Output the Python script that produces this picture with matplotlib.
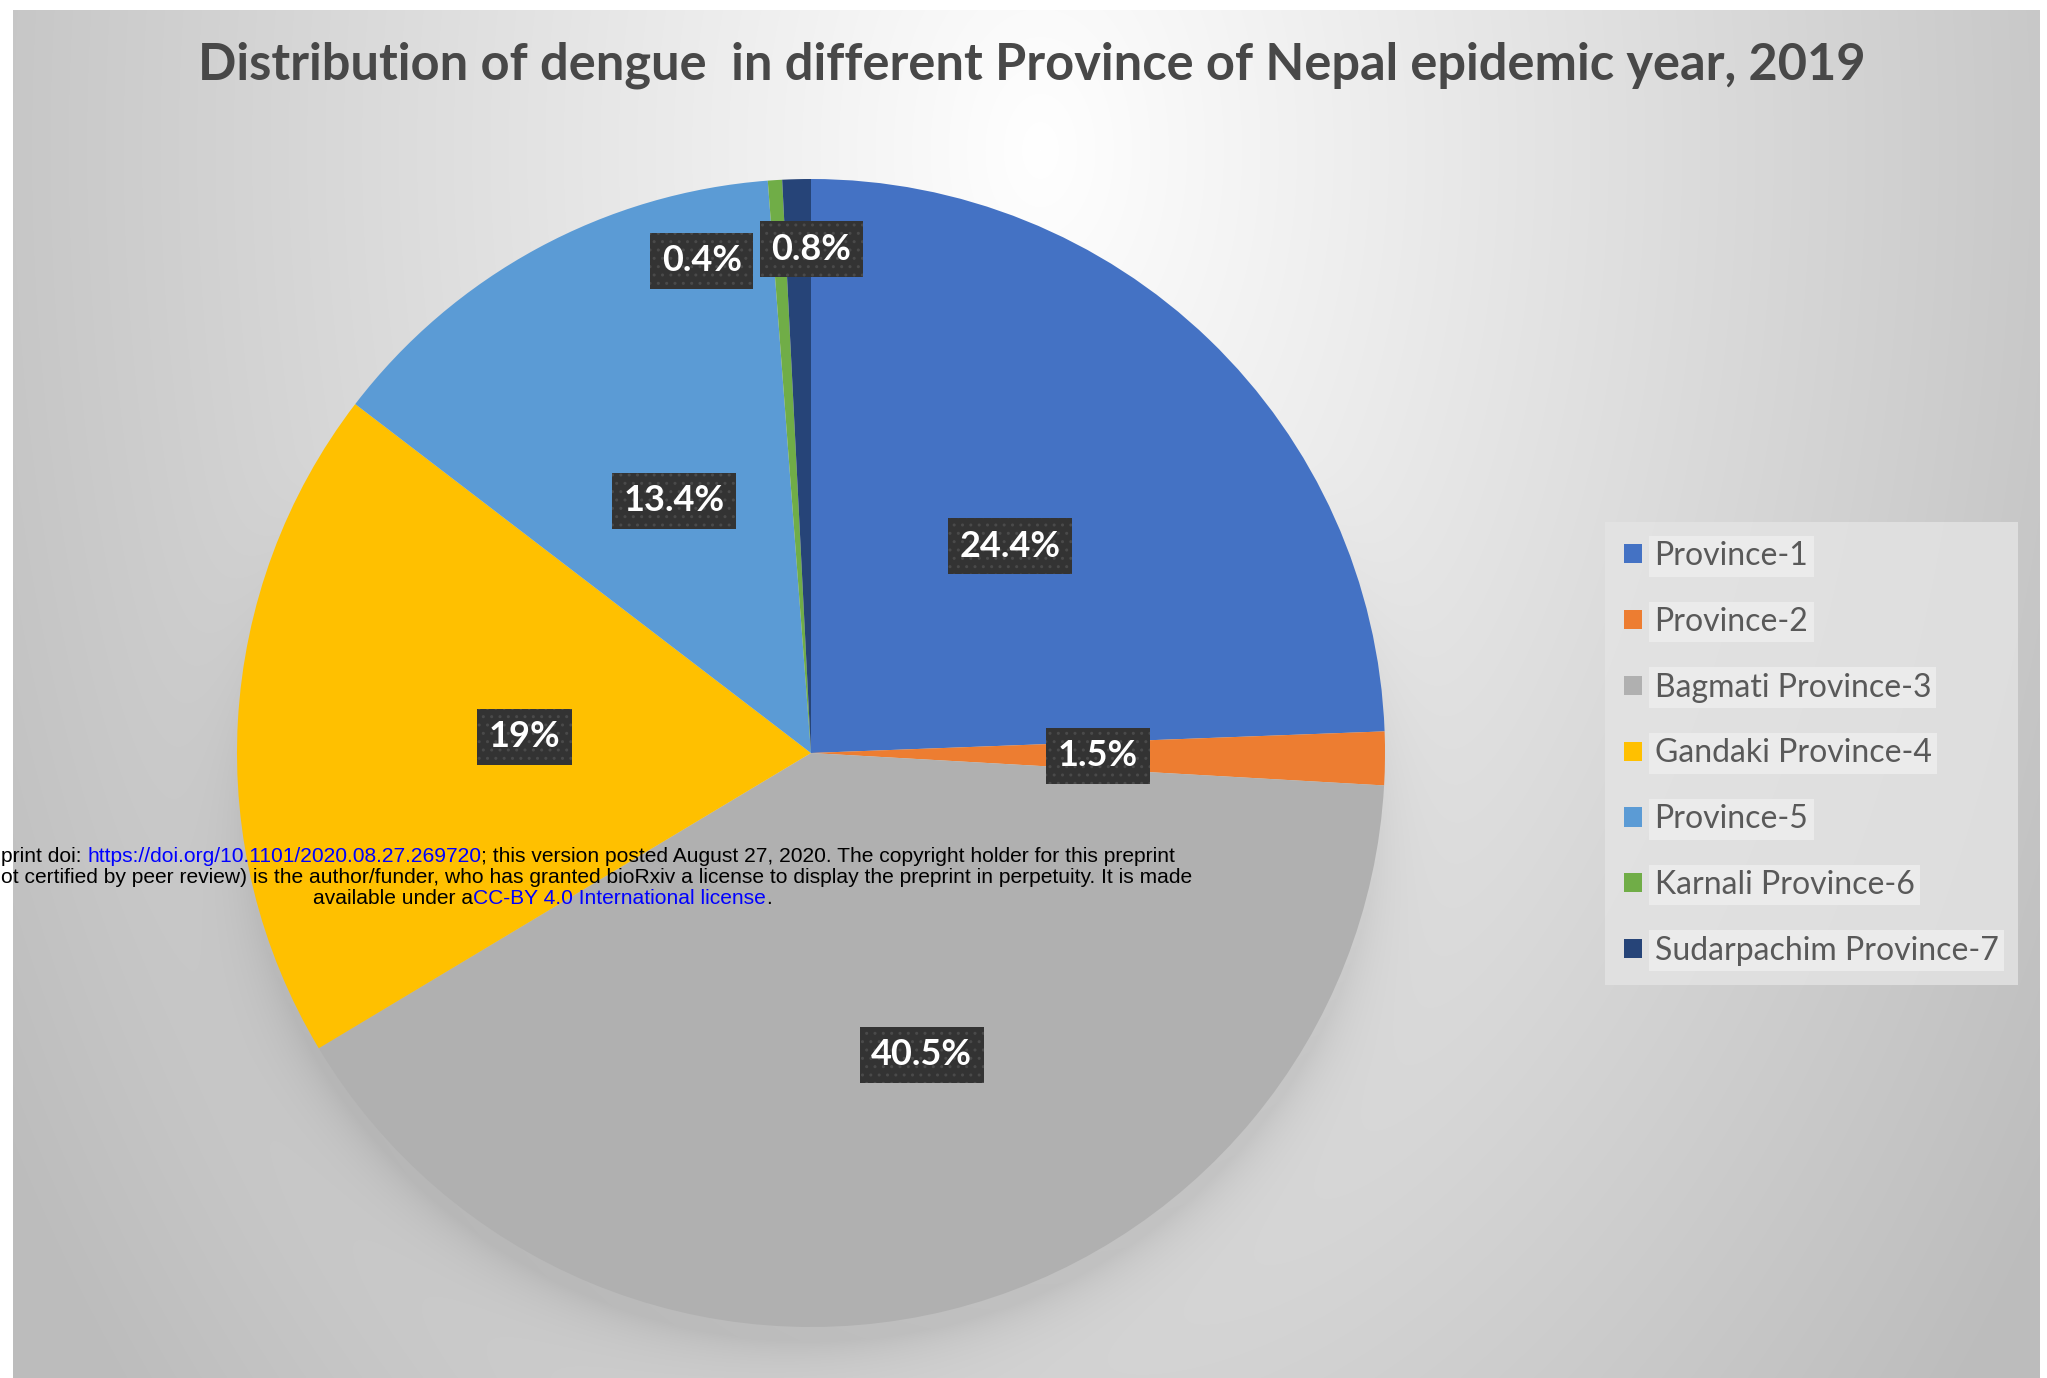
import numpy as np
import matplotlib
matplotlib.use("Agg")
import matplotlib.pyplot as plt

# data
provinces = ["Province-1", "Province-2", "Bagmati Province-3", "Gandaki Province-4",
             "Province-5", "Karnali Province-6", "Sudarpachim Province-7"]
shares = [24.4, 1.5, 40.5, 19, 13.4, 0.4, 0.8]
colors = ["#4472C4", "#ED7D31", "#B0B0B0", "#FFC000", "#5B9BD5", "#70AD47", "#264478"]
title = "Distribution of dengue  in different Province of Nepal epidemic year, 2019"

# where Excel put each data label: fraction of radius, angle nudge (deg)
lab_dist = [0.5, 0.5, 0.56, 0.5, 0.5, 0.878, 0.878]
lab_shift = [0, 0, 6.3, 0, 0, 8.9, -1.5]

W, H = 2047, 1378
fig = plt.figure(figsize=(W / 100, H / 100), dpi=100)
fig.patch.set_facecolor("white")

# background panel with radial gradient + soft pie shadow
px0, py0 = 13, 10
pw, ph = W - 7 - px0, H - py0
yy, xx = np.mgrid[py0:H, px0:px0 + pw].astype(float)
d = np.sqrt(((xx - 1040) / 1100) ** 2 + ((yy - 150) / 1700) ** 2)
bg = 255 - 60 * np.clip(d, 0, 1.1)
cx, cy, r = 811, 753, 574
ds = np.sqrt((xx - cx) ** 2 + (yy - (cy + 14)) ** 2) - r
below = np.clip((yy - cy + 300) / 600, 0, 1)
bg -= 22 * np.exp(-np.clip(ds, 0, None) / 30.0) * below
bg = np.clip(bg, 0, 255) / 255
bgax = fig.add_axes([px0 / W, 0, pw / W, ph / H])
bgax.imshow(np.dstack([bg, bg, bg]), aspect="auto", interpolation="bilinear")
bgax.axis("off")

ax = fig.add_axes([(cx - r) / W, (H - cy - r) / H, 2 * r / W, 2 * r / H])
wedges, _ = ax.pie(shares, colors=colors, startangle=90, counterclock=False,
                   wedgeprops=dict(linewidth=0))
ax.set_xlim(-1, 1)
ax.set_ylim(-1, 1)
ax.axis("off")

for w, v, dist, sh in zip(wedges, shares, lab_dist, lab_shift):
    mid = np.deg2rad((w.theta1 + w.theta2) / 2 + sh)
    ax.text(dist * np.cos(mid), dist * np.sin(mid), f"{v:g}%", ha="center", va="center",
            color="white", fontsize=26, fontweight="bold", family="Lato",
            bbox=dict(boxstyle="square,pad=0.32", facecolor="#333333",
                      edgecolor="#4a4a4a", linewidth=0, hatch=".."))

fig.text(1032 / W, 1 - 65 / H, title, ha="center", va="center", fontsize=36.4,
         fontweight="bold", family="Lato", color="#484848")

leg = fig.legend(wedges, provinces, loc="upper left",
                 bbox_to_anchor=(1605 / W, 1 - 522 / H), borderaxespad=0, frameon=True,
                 prop=dict(family="Lato", size=23), labelcolor="#595959",
                 handlelength=0.55, handleheight=0.55, handletextpad=0.4,
                 labelspacing=1.12, borderpad=0.6, fancybox=False)
leg.get_frame().set_facecolor("#e4e4e4")
leg.get_frame().set_edgecolor("none")
for t in leg.get_texts():
    t.set_bbox(dict(facecolor="#ebebeb", edgecolor="none", pad=4))

# bioRxiv watermark pasted over the figure
renderer = fig.canvas.get_renderer()
wm = dict(fontsize=15.1, family="Liberation Sans", va="baseline")
sp = fig.text(0, 0, "a a", **wm)
sp2 = fig.text(0, 0, "aa", **wm)
space = (sp.get_window_extent(renderer).width - sp2.get_window_extent(renderer).width)
sp.remove()
sp2.remove()

def chain(parts, x, y):
    for s, c, gap in parts:
        if gap:
            x += space
        t = fig.text(x / W, 1 - y / H, s, color=c, **wm)
        x = t.get_window_extent(renderer).x1

blue = "#0000ff"
chain([("print doi:", "black", 0), ("https://doi.org/10.1101/2020.08.27.269720", blue, 1),
       ("; this version posted August 27, 2020. The copyright holder for this preprint", "black", 0)],
      1, 862)
chain([("ot certified by peer review) is the author/funder, who has granted bioRxiv a license "
        "to display the preprint in perpetuity. It is made", "black", 0)], 1, 883)
chain([("available under a", "black", 0), ("CC-BY 4.0 International license", blue, 0),
       (".", "black", 0)], 313, 904)

fig.savefig("out.png", dpi=100)
